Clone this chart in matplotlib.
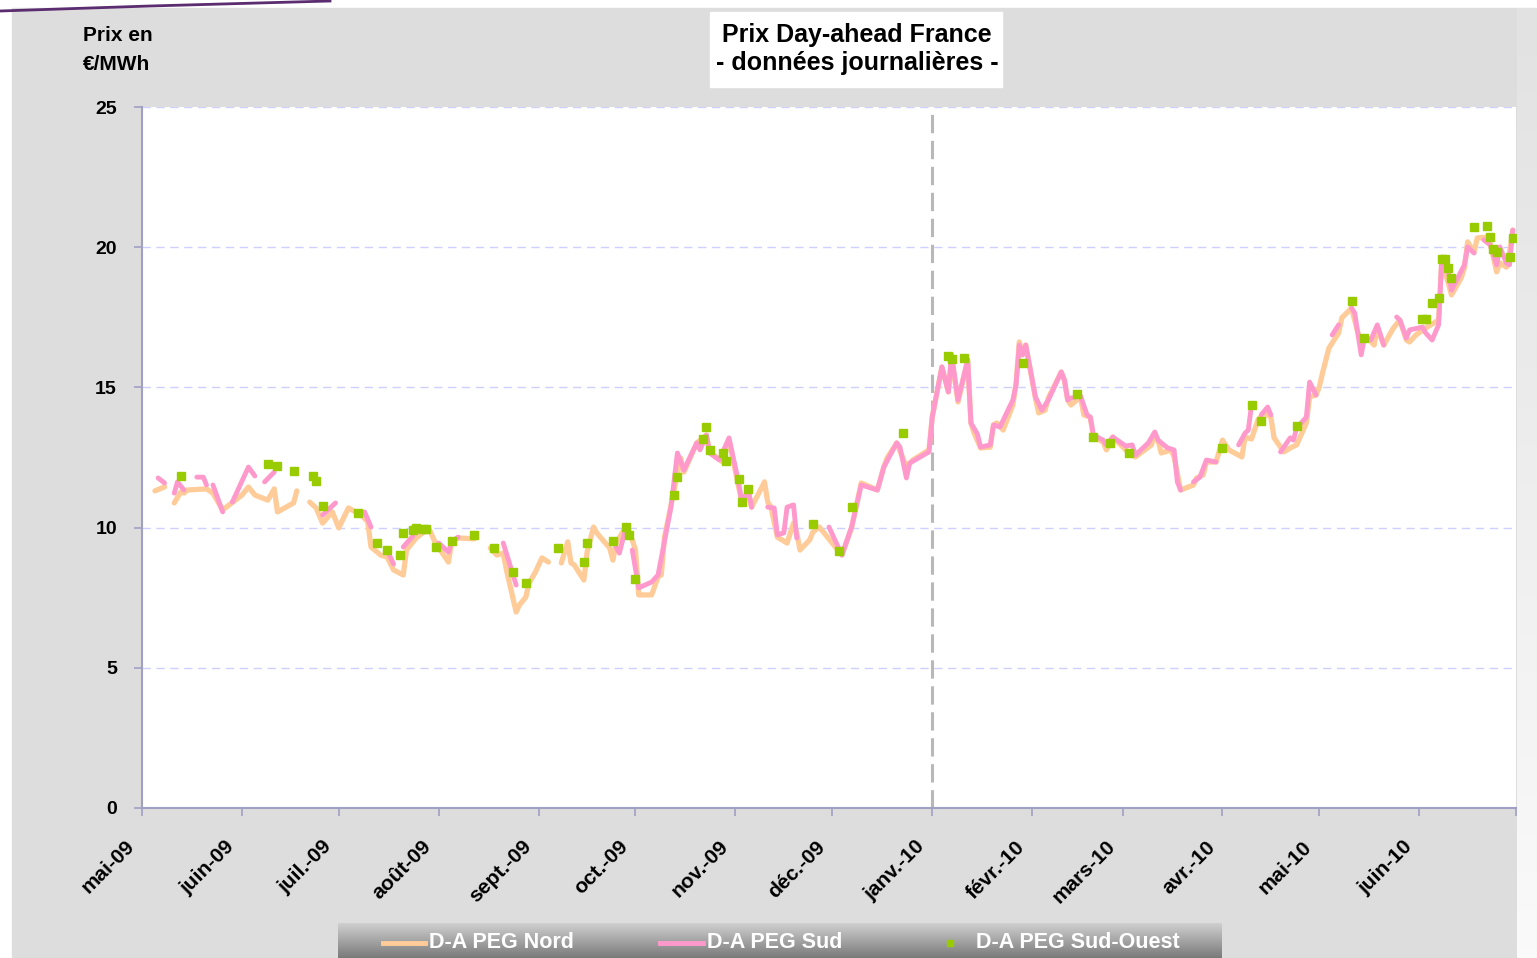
import numpy as np
import matplotlib
matplotlib.use("Agg")
import matplotlib.pyplot as plt
import pandas as pd
from matplotlib.patches import Rectangle
from matplotlib.lines import Line2D
from matplotlib.transforms import ScaledTranslation

plt.rcParams['font.family'] = ['Liberation Sans', 'DejaVu Sans']

# day offsets from 1 May 2009, None = break in the line
START = pd.Timestamp("2009-05-01")
G = None

nord_day = [4, 7, G,
            10, 12, 13, 14, 20, 22, 25, 31, 33, 35, 39, 41, 42, 47, 48, G,
            52, 54, 56, 59, 61, 64, 68, 70, 71, 74, 76, 78, 81, 82, 85, 87, 89, 91, 95, 96, 98, 103, G,
            108, 110, 112, 113, 116, 117, 119, 120, 122, 124, 126, G,
            130, 132, 133, 134, 137, 138, 140, 141, 145, 146, 147, 150, 152, 153, 154, 158, 160, 161,
            162, 167, 168, 172, 175, 176, 180, 182, 185, 186, 188, 189, 193, 194, 195, 197, 200, 202,
            203, 204, 207, 208, 210, 215, 217, 220, 223, 228, 230, 231, 234, 237, 239, 244, 245, 248,
            250, 251, 253, 256, 257, 258, 260, 263, 264, 265, 267, 270, 271, 272, 273, 274, 277, 278,
            280, 281, 285, 286, 287, 288, 291, 292, 294, 295, 298, 299, 301, 305, 307, 308, 313, 314,
            315, 316, 319, 320, 322, 326, 327, 329, 330, 333, 335, 337, 341, 342, 344, 346, 348, 350,
            351, 354, 356, 358, 361, 362, 364, 365, 366, 368, 371, 372, 375, 377, 378, 380, 382, 383,
            385, 388, 390, 392, 393, 395, 398, 402, 403, 406, 409, 410, 411, 413, 414, 417, 418, 420,
            421, 423, 424, 425]
nord_val = [11.31, 11.45, G,
            10.88, 11.27, 11.23, 11.34, 11.38, 11.23, 10.63, 11.16, 11.45, 11.16, 10.98, 11.38, 10.56, 10.88, 11.31, G,
            10.91, 10.70, 10.16, 10.56, 9.99, 10.70, 10.45, 10.20, 9.31, 9.02, 8.95, 8.49, 8.31, 9.20, 9.63, 9.81, 9.95, 9.45, 8.77, 9.49, 9.63, 9.60, G,
            9.27, 9.02, 9.09, 8.49, 6.99, 7.24, 7.52, 8.02, 8.42, 8.92, 8.77, G,
            8.74, 9.49, 8.74, 8.67, 8.13, 9.13, 10.02, 9.81, 9.27, 8.84, 9.45, 10.02, 9.56, 9.20, 7.60, 7.60, 8.24, 8.31,
            9.66, 12.48, 11.98, 13.02, 13.30, 12.70, 12.34, 13.12, 11.45, 10.88, 11.23, 10.73, 11.63, 10.91, 10.73, 9.66, 9.45, 10.16,
            9.81, 9.20, 9.56, 9.84, 10.02, 9.31, 9.02, 9.99, 11.59, 11.34, 12.16, 12.48, 13.02, 12.16, 12.41, 12.77, 13.94, 15.73,
            14.84, 16.08, 14.48, 15.98, 13.73, 13.37, 12.84, 12.87, 13.66, 13.73, 13.48, 14.37, 15.16, 16.62, 16.16, 16.51, 14.62, 14.09,
            14.19, 14.62, 15.55, 15.26, 14.55, 14.37, 14.66, 14.02, 13.94, 13.23, 13.05, 12.77, 13.23, 12.77, 12.59, 12.52, 12.95, 13.37,
            13.12, 12.66, 12.77, 12.52, 11.34, 11.52, 11.77, 11.88, 12.34, 12.34, 13.12, 12.77, 12.52, 13.23, 13.16, 13.84, 14.09, 13.94,
            13.20, 12.70, 12.84, 12.95, 13.73, 14.66, 14.73, 15.01, 15.51, 16.40, 16.94, 17.48, 17.83, 16.94, 16.62, 16.76, 16.51, 17.12,
            16.51, 17.12, 17.40, 16.69, 16.62, 16.87, 17.12, 17.40, 19.54, 18.30, 18.90, 19.26, 20.19, 19.83, 20.33, 20.36, 20.15, 19.12,
            19.44, 19.29, 19.79, 20.61]

sud_day = [5, 7, G, 10, 11, 13, G, 17, 19, 20, G, 22, 25, G, 28, 33, 35, G, 38, 41, G,
           56, 60, G, 69, 71, G, 76, 78, G, 81, 84, G, 92, 95, 96, 98, G, 112, 116, G,
           147, 148, 150, G,
           152, 154, 158, 160, 164, 166, 168, 172, 173, 175, 176, 179, 182, 185, 186, 188, 189, G,
           194, 196, 197, 199, 200, 202, 203, G,
           213, 217, 220, 223, 228, 230, 234, 235, 237, 238, 244, 245, 248, 250, 251, 253, 256, 257,
           259, 260, 263, 264, 266, 270, 271, 272, 273, 274, 277, 279, 281, 285, 286, 287, 288, 291,
           293, 294, 295, 298, 299, 301, 305, 307, 308, 312, 314, 315, 318, 320, 321, 322, G,
           326, 328, 330, 333, G, 340, 342, 343, 344, G, 347, 349, 350, G,
           353, 356, 357, 358, 361, 362, 364, G, 369, 371, G,
           375, 376, 378, 379, 381, 383, 385, G,
           389, 390, 392, 393, 397, 398, 400, 402, 403, 405, 406, 410, 411, 413, G,
           416, 418, 420, 421, 423, 424, 425]
sud_val = [11.77, 11.59, G, 11.23, 11.63, 11.34, G, 11.80, 11.80, 11.52, G, 11.52, 10.56, G, 10.91, 12.16, 11.84, G, 11.63, 11.98, G,
           10.45, 10.88, G, 10.56, 10.02, G, 9.20, 8.70, G, 9.31, 9.70, G, 9.45, 9.13, 9.49, 9.66, G, 9.45, 7.95, G,
           9.31, 9.09, 9.99, G,
           9.20, 7.85, 8.06, 8.31, 10.73, 12.66, 12.05, 13.02, 12.77, 13.30, 12.66, 12.41, 13.20, 11.59, 10.91, 11.34, 10.73, G,
           10.73, 10.70, 9.74, 9.81, 10.73, 10.81, 9.63, G,
           10.02, 9.02, 10.02, 11.52, 11.34, 12.16, 13.02, 12.87, 11.77, 12.30, 12.70, 13.94, 15.73, 14.84, 16.16, 14.55, 15.98, 13.73,
           13.34, 12.87, 12.95, 13.66, 13.59, 14.55, 15.09, 16.51, 16.16, 16.51, 14.66, 14.19, 14.55, 15.55, 15.26, 14.55, 14.62, 14.69,
           14.02, 13.94, 13.30, 13.12, 12.95, 13.23, 12.91, 12.95, 12.59, 13.02, 13.41, 13.12, 12.84, 12.77, 11.63, 11.34, G,
           11.63, 11.80, 12.41, 12.34, G, 12.95, 13.37, 13.48, 14.37, G, 14.02, 14.30, 14.02, G,
           12.70, 13.20, 13.12, 13.55, 13.94, 15.19, 14.73, G, 16.87, 17.23, G,
           17.83, 17.65, 16.16, 16.76, 16.69, 17.23, 16.51, G,
           17.51, 17.40, 16.76, 17.05, 17.15, 16.94, 16.69, 17.23, 19.65, 19.12, 18.47, 19.37, 20.01, 19.79, G,
           20.26, 20.08, 19.37, 20.01, 19.44, 19.37, 20.61]

so_day = [12, 39, 42, 47, 53, 54, 56, 67, 73, 76, 80, 81, 84, 85, 87, 88, 91, 96, 103, 109,
          115, 119, 129, 137, 138, 146, 150, 151, 153, 165, 166, 174, 175, 176, 180, 181, 185, 186, 188, 208,
          216, 220, 236, 250, 251, 255, 273, 290, 295, 300, 306, 335, 344, 347, 358, 375, 379, 397, 398, 400,
          402, 403, 404, 405, 406, 413, 417, 418, 419, 420, 424, 425]
so_val = [11.84, 12.27, 12.20, 12.02, 11.84, 11.66, 10.77, 10.52, 9.45, 9.20, 9.02, 9.81, 9.91, 9.99, 9.95, 9.95, 9.31, 9.52, 9.74, 9.27,
          8.42, 8.02, 9.27, 8.77, 9.45, 9.52, 10.02, 9.74, 8.17, 11.16, 11.80, 13.16, 13.59, 12.77, 12.66, 12.38, 11.73, 10.91, 11.38, 10.13,
          9.17, 10.73, 13.37, 16.12, 16.01, 16.05, 15.87, 14.76, 13.23, 13.02, 12.66, 12.84, 14.37, 13.80, 13.62, 18.08, 16.76, 17.44, 17.44, 18.01,
          18.19, 19.58, 19.58, 19.26, 18.90, 20.72, 20.76, 20.36, 19.94, 19.83, 19.65, 20.33]

month_labels = ["mai-09", "juin-09", "juil.-09", "août-09", "sept.-09", "oct.-09", "nov.-09",
                "déc.-09", "janv.-10", "févr.-10", "mars-10", "avr.-10", "mai-10", "juin-10"]
y_ticks = [0, 5, 10, 15, 20, 25]

NORD_C = "#ffcc99"
SUD_C = "#ff99cc"
SO_C = "#99cc00"
AXIS_C = "#a0a0c4"

W, H = 1537, 958


def fx(px):
    return px / W


def fy(py):
    return 1 - py / H


month_days = (pd.date_range("2009-05-01", "2010-07-01", freq="MS") - START).days

fig = plt.figure(figsize=(W / 100, H / 100), dpi=100)
fig.patch.set_facecolor("white")
fig.patches.append(Rectangle((fx(12), 0), 1 - fx(12), fy(8), transform=fig.transFigure,
                             color="#dddddd", zorder=-5))
# light strip on the right edge
side = fig.add_axes([fx(1517), 0, 1 - fx(1517), fy(8)])
side.imshow(np.linspace(0, 1, 100).reshape(-1, 1), cmap=matplotlib.colors.LinearSegmentedColormap.from_list(
    "s", ["#e2e2e2", "#fafafa"]), aspect="auto", extent=[0, 1, 0, 1])
side.axis("off")

# decorative line at top-left
fig.add_artist(Line2D([0, fx(150), fx(330)], [fy(11), fy(6), fy(1)], color="#5b2c6f", lw=2,
                      transform=fig.transFigure))

ax = fig.add_axes([fx(142), fy(808), fx(1516) - fx(142), fy(107) - fy(808)])
ax.set_facecolor("white")

ax.plot(np.array(nord_day, dtype=float), np.array(nord_val, dtype=float), color=NORD_C, lw=3.8,
        solid_joinstyle="round", solid_capstyle="round", zorder=3)
ax.plot(np.array(sud_day, dtype=float), np.array(sud_val, dtype=float), color=SUD_C, lw=3.5,
        solid_joinstyle="round", solid_capstyle="round", zorder=4)
ax.plot(so_day, so_val, linestyle="none", marker="s", ms=5.3, color=SO_C, zorder=5)

ax.axvline(month_days[8], color="#b8b8b8", lw=2.2, linestyle=(0, (6, 2.5)), zorder=2)

ax.set_xlim(0, month_days[-1])
ax.set_ylim(0, 25)
ax.set_yticks(y_ticks)
ax.set_yticklabels([str(v) for v in y_ticks], fontsize=14, fontweight="bold")
ax.yaxis.grid(True, color="#d0d0ff", lw=1, linestyle=(0, (6, 4)))
ax.set_axisbelow(True)
ax.set_xticks(month_days)
ax.set_xticklabels([])
# month labels drawn by hand so they sit slanted left of each tick
lab_tr = ax.get_xaxis_transform() + ScaledTranslation(-17 / 100, -29 / 100, fig.dpi_scale_trans)
for d, lab in zip(month_days, month_labels):
    ax.text(d, 0, lab, transform=lab_tr, rotation=45, ha="right", va="top",
            rotation_mode="anchor", fontsize=15, fontweight="bold")
ax.tick_params(axis="both", direction="out", length=6, color=AXIS_C, width=1.2)
ax.tick_params(axis="y", pad=12)
for s in ["top", "right"]:
    ax.spines[s].set_visible(False)
for s in ["left", "bottom"]:
    ax.spines[s].set_color(AXIS_C)
    ax.spines[s].set_linewidth(1.5)

# title box
fig.patches.append(Rectangle((fx(710), fy(87)), fx(1002) - fx(710), fy(12) - fy(87),
                             transform=fig.transFigure, color="white", zorder=1))
fig.text(fx(857), fy(49), "Prix Day-ahead France\n- données journalières -", ha="center",
         va="center", fontsize=18, fontweight="bold", linespacing=1.25, zorder=2)

fig.text(fx(83), fy(26), "Prix en\n€/MWh", ha="left", va="top", fontsize=15,
         fontweight="bold", linespacing=1.65)

# legend bar
leg = fig.add_axes([fx(338), 0, fx(1222) - fx(338), fy(923)])
leg.imshow(np.linspace(0, 1, 100).reshape(-1, 1), cmap=matplotlib.colors.LinearSegmentedColormap.from_list(
    "g", ["#d2d2d2", "#7a7a7a"]), aspect="auto", extent=[0, 1, 0, 1])
leg.axis("off")
ly = fy(943)
fig.add_artist(Line2D([fx(383), fx(425)], [ly, ly], color=NORD_C, lw=3.5, transform=fig.transFigure))
fig.text(fx(429), ly, "D-A PEG Nord", color="white", fontsize=15.5, fontweight="bold", va="center")
fig.add_artist(Line2D([fx(660), fx(703)], [ly, ly], color=SUD_C, lw=3.5, transform=fig.transFigure))
fig.text(fx(707), ly, "D-A PEG Sud", color="white", fontsize=15.5, fontweight="bold", va="center")
fig.add_artist(Line2D([fx(950)], [ly], color=SO_C, marker="s", ms=5, linestyle="none",
                      transform=fig.transFigure))
fig.text(fx(976), ly, "D-A PEG Sud-Ouest", color="white", fontsize=15.5, fontweight="bold", va="center")

fig.savefig("out.png", dpi=100)
